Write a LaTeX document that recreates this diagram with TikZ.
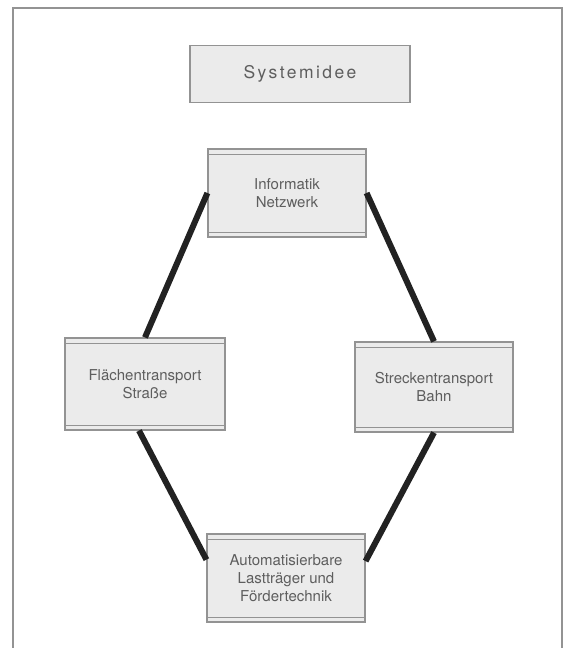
\documentclass[tikz,border=0pt]{standalone}
\usepackage{fontspec}
\setmainfont{TeX Gyre Heros}
\newfontfamily\spacedfont[LetterSpace=14]{TeX Gyre Heros}
\usepackage{tikz}
\definecolor{boxfill}{HTML}{EBEBEB}
\definecolor{boxline}{HTML}{939393}
\definecolor{boxtext}{HTML}{5E5E5E}
\definecolor{bar}{HTML}{222222}
\tikzset{basic/.style={draw=boxline,line width=1.2pt,fill=boxfill,text=boxtext,align=center,inner sep=0pt}}
\tikzset{title/.style={basic,minimum width=220pt,minimum height=57pt,font=\spacedfont\fontsize{17.5}{20}\selectfont}}
\tikzset{module/.style={basic,minimum width=158pt,minimum height=88pt,font=\fontsize{15}{18}\selectfont,
    path picture={
      \draw[boxline,line width=1pt] ([yshift=-5pt]path picture bounding box.north west) -- ([yshift=-5pt]path picture bounding box.north east);
      \draw[boxline,line width=1pt] ([yshift=5pt]path picture bounding box.south west) -- ([yshift=5pt]path picture bounding box.south east);
    }}}
\tikzset{link/.style={draw=bar,line width=6pt}}

\begin{document}
\begin{tikzpicture}[x=1pt,y=-1pt]
        \useasboundingbox (0,0) rectangle (564,648);
        \draw[boxline,line width=1.8pt] (13,648) -- (13,8) -- (562,8) -- (562,648);

        \node[title] (idee) at (300,74) {Systemidee};

        \node[module] (netz) at (287,193) {Informatik\\Netzwerk};
        \node[module,minimum width=160pt,minimum height=92pt] (strasse) at (145,384) {Flächentransport\\Straße};
        \node[module,minimum height=90pt] (bahn) at (434,387) {Streckentransport\\Bahn};
        \node[module] (foerder) at (286,578) {Automatisierbare\\Lastträger und\\Fördertechnik};

        \path[link] (netz.west) -- (strasse.north);
        \path[link] (netz.east) -- (bahn.north);
        \path[link] ([xshift=-6pt]strasse.south) -- (foerder.167);
        \path[link] (bahn.south) -- (foerder.12);
    \end{tikzpicture}
\end{document}
